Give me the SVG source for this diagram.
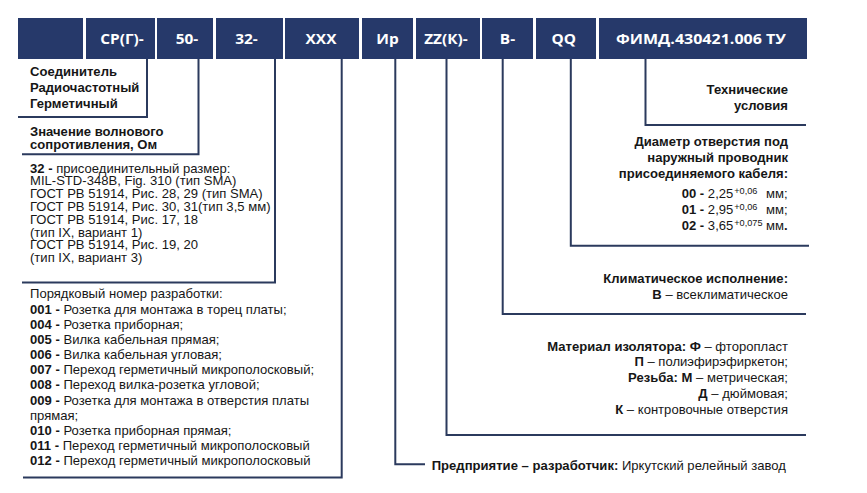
<svg xmlns="http://www.w3.org/2000/svg" width="867" height="493" viewBox="0 0 867 493">
<style>
.cell{fill:#26396a}
.bt{font-family:"Open Sans","Liberation Sans",sans-serif;font-weight:700;font-size:14px;fill:#ffffff;text-anchor:middle}
.t{font-family:"Liberation Sans",Arial,sans-serif;font-size:12px;fill:#161616}
.b{font-weight:700}
.e{text-anchor:end}
.sup{font-size:8.4px}
.conn{fill:none;stroke:#2b3a5d;stroke-width:2}
</style>
<rect width="867" height="493" fill="#ffffff"/>
<g id="bar">
<g id="cell0"><rect class="cell" x="18" y="18" width="65" height="41"/></g>
<g id="cell-sr"><rect class="cell" x="86" y="18" width="69" height="41"/><text class="bt" transform="scale(1.1 1)" x="110.91" y="44">СР(Г)-</text></g>
<g id="cell-50"><rect class="cell" x="157" y="18" width="56" height="41"/><text class="bt" transform="scale(1.1 1)" x="170" y="44">50-</text></g>
<g id="cell-32"><rect class="cell" x="216" y="18" width="67" height="41"/><text class="bt" transform="scale(1.1 1)" x="224.09" y="44">32-</text></g>
<g id="cell-xxx"><rect class="cell" x="285" y="18" width="74" height="41"/><text class="bt" transform="scale(1.1 1)" x="291.82" y="44">XXX</text></g>
<g id="cell-ir"><rect class="cell" x="362" y="18" width="51" height="41"/><text class="bt" transform="scale(1.1 1)" x="352.27" y="44">Ир</text></g>
<g id="cell-zz"><rect class="cell" x="416" y="18" width="64" height="41"/><text class="bt" transform="scale(1.1 1)" x="405.45" y="44">ZZ(К)-</text></g>
<g id="cell-v"><rect class="cell" x="482" y="18" width="51" height="41"/><text class="bt" transform="scale(1.1 1)" x="461.36" y="44">В-</text></g>
<g id="cell-qq"><rect class="cell" x="536" y="18" width="60" height="41"/><text class="bt" transform="scale(1.1 1)" x="512.45" y="44">QQ</text></g>
<g id="cell-tu"><rect class="cell" x="599" y="18" width="208" height="41"/><text class="bt" transform="scale(1.1 1)" x="637.27" y="44" textLength="154.5" lengthAdjust="spacingAndGlyphs">ФИМД.430421.006 ТУ</text></g>
</g>
<g id="connectors">
<path class="conn" d="M147,59 V117 H18"/>
<path class="conn" d="M198.5,59 V154.3 H22"/>
<path class="conn" d="M275,59 V282.5 H22"/>
<path class="conn" d="M341.7,59 V477.5 H23"/>
<path class="conn" d="M395.3,59 V464.3 H425"/>
<path class="conn" d="M446.5,59 V435 H806"/>
<path class="conn" d="M502.7,59 V314 H806"/>
<path class="conn" d="M570.8,59 V245.7 H809"/>
<path class="conn" d="M645.5,59 V125 H806"/>
</g>
<g id="note-sr" class="t b" transform="scale(1.09 1)">
<text x="27.52" y="76">Соединитель</text>
<text x="27.52" y="92">Радиочастотный</text>
<text x="27.52" y="108">Герметичный</text>
</g>
<g id="note-50" class="t b" transform="scale(1.09 1)">
<text x="27.52" y="136">Значение волнового</text>
<text x="27.52" y="148.7">сопротивления, Ом</text>
</g>
<g id="note-32" class="t" transform="scale(1.09 1)">
<text x="27.52" y="172.7"><tspan class="b">32 -</tspan> присоединительный размер:</text>
<text x="27.52" y="185.5">MIL-STD-348B, Fig. 310 (тип SMA)</text>
<text x="27.52" y="198.3">ГОСТ РВ 51914, Рис. 28, 29 (тип SMA)</text>
<text x="27.52" y="211.1">ГОСТ РВ 51914, Рис. 30, 31(тип 3,5 мм)</text>
<text x="27.52" y="223.9">ГОСТ РВ 51914, Рис. 17, 18</text>
<text x="27.52" y="236.7">(тип IX, вариант 1)</text>
<text x="27.52" y="249.5">ГОСТ РВ 51914, Рис. 19, 20</text>
<text x="27.52" y="262.3">(тип IX, вариант 3)</text>
</g>
<g id="note-xxx" class="t" transform="scale(1.09 1)">
<text x="27.52" y="298.5">Порядковый номер разработки:</text>
<text x="27.52" y="313.65"><tspan class="b">001 -</tspan> Розетка для монтажа в торец платы;</text>
<text x="27.52" y="328.8"><tspan class="b">004 -</tspan> Розетка приборная;</text>
<text x="27.52" y="343.95"><tspan class="b">005 -</tspan> Вилка кабельная прямая;</text>
<text x="27.52" y="359.1"><tspan class="b">006 -</tspan> Вилка кабельная угловая;</text>
<text x="27.52" y="374.25"><tspan class="b">007 -</tspan> Переход герметичный микрополосковый;</text>
<text x="27.52" y="389.4"><tspan class="b">008 -</tspan> Переход вилка-розетка угловой;</text>
<text x="27.52" y="404.55"><tspan class="b">009 -</tspan> Розетка для монтажа в отверстия платы</text>
<text x="27.52" y="419.7">прямая;</text>
<text x="27.52" y="434.85"><tspan class="b">010 -</tspan> Розетка приборная прямая;</text>
<text x="27.52" y="450"><tspan class="b">011 -</tspan> Переход герметичный микрополосковый</text>
<text x="27.52" y="465.15"><tspan class="b">012 -</tspan> Переход герметичный микрополосковый</text>
</g>
<g id="note-ir" class="t" transform="scale(1.09 1)">
<text x="396.06" y="470"><tspan class="b">Предприятие – разработчик:</tspan> Иркутский релейный завод</text>
</g>
<g id="note-tu" class="t b e" transform="scale(1.09 1)">
<text x="722.94" y="94.5">Технические</text>
<text x="722.94" y="110">условия</text>
</g>
<g id="note-qq" class="t" transform="scale(1.09 1)">
<text class="b e" x="722.94" y="145.7">Диаметр отверстия под</text>
<text class="b e" x="722.94" y="161.7">наружный проводник</text>
<text class="b e" x="722.94" y="177.7">присоединяемого кабеля:</text>
<text x="625.41" y="198.3"><tspan class="b">00 -</tspan> 2,25</text>
<text class="sup" x="673.67" y="194">+0,06</text>
<text class="e" x="722.66" y="198.3">мм;</text>
<text x="625.41" y="214"><tspan class="b">01 -</tspan> 2,95</text>
<text class="sup" x="673.67" y="209.7">+0,06</text>
<text class="e" x="722.66" y="214">мм;</text>
<text x="625.41" y="230"><tspan class="b">02 -</tspan> 3,65</text>
<text class="sup" x="673.67" y="225.7">+0,075</text>
<text class="e" x="722.66" y="230">мм<tspan class="b">.</tspan></text>
</g>
<g id="note-v" class="t e" transform="scale(1.09 1)">
<text class="b" x="722.94" y="283.3">Климатическое исполнение:</text>
<text x="722.94" y="299"><tspan class="b">В</tspan> – всеклиматическое</text>
</g>
<g id="note-zz" class="t e" transform="scale(1.09 1)">
<text x="722.94" y="351"><tspan class="b">Материал изолятора: Ф</tspan> – фторопласт</text>
<text x="722.94" y="366.5"><tspan class="b">П</tspan> – полиэфирэфиркетон;</text>
<text x="722.94" y="382.2"><tspan class="b">Резьба: М</tspan> – метрическая;</text>
<text x="722.94" y="397.8"><tspan class="b">Д</tspan> – дюймовая;</text>
<text x="722.94" y="414"><tspan class="b">К</tspan> – контровочные отверстия</text>
</g>
</svg>
